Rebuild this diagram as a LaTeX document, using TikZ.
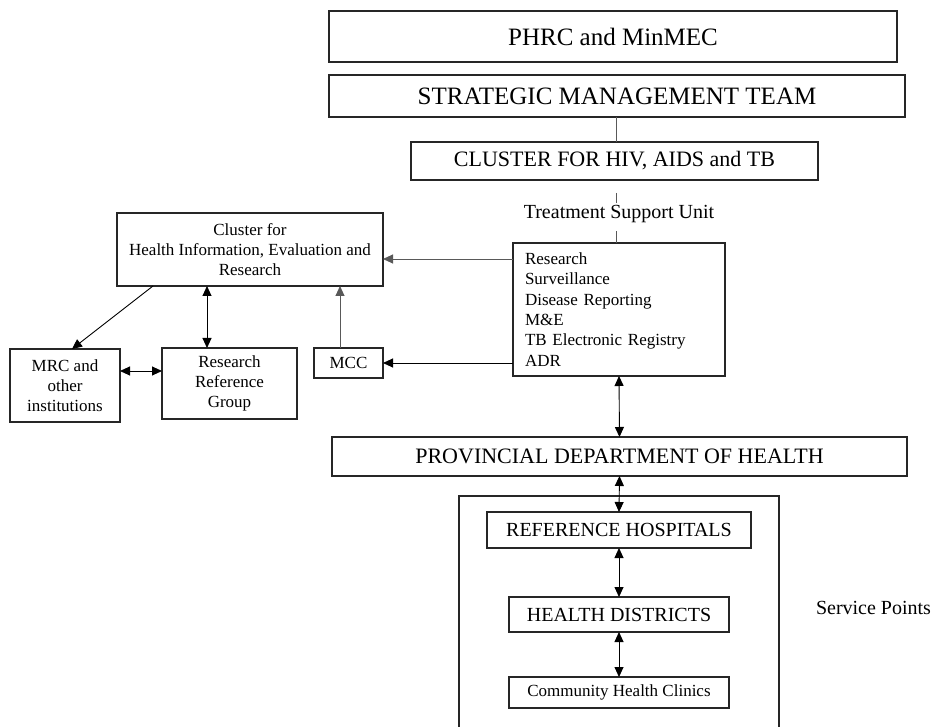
\documentclass[tikz,border=0pt]{standalone}
\usepackage{fontspec}
\setmainfont{Liberation Serif}
\usetikzlibrary{arrows.meta}
\begin{document}
\begin{tikzpicture}[x=1pt,y=-1pt,
  box/.style={draw=black!85,line width=1.1pt,inner sep=0pt,outer sep=0pt,align=center},
  fa/.style={font=\fontsize{25}{30}\selectfont},
  fb/.style={font=\fontsize{22}{26}\selectfont},
  fc/.style={font=\fontsize{20}{24}\selectfont},
  fd/.style={font=\fontsize{17}{20.3}\selectfont},
  conn/.style={line width=0.9pt,draw=black},
  gconn/.style={line width=0.9pt,draw=black!65},
  tip/.tip={Triangle[length=10pt,width=9pt]},
  one/.style={-tip},
  two/.style={tip-tip}]
\useasboundingbox (0,0) rectangle (932,727);
% boxes
\node[box,fa,minimum width=568,minimum height=51] (phrc) at (613,36.5) {PHRC and MinMEC};
\node[box,fa,minimum width=576,minimum height=42] (smt) at (617,96) {STRATEGIC MANAGEMENT TEAM};
\node[box,fb,minimum width=407,minimum height=38] (hiv) at (614.5,161) {CLUSTER FOR HIV, AIDS and TB};
\node[fc,inner sep=0pt] (tsulbl) at (619,214) {Treatment Support Unit};
\node[box,fd,minimum width=212,minimum height=133,text width=188,align=left] (tsu) at (619,309.5)
  {Research\\Surveillance\\Disease Reporting\\M\&E\\TB Electronic Registry\\ADR};
\node[box,fd,minimum width=266,minimum height=73] (hier) at (250,249.5)
  {Cluster for\\Health Information, Evaluation and\\Research};
\node[box,fd,minimum width=110,minimum height=73] (mrc) at (65,385.5) {MRC and\\other\\institutions};
\node[box,fd,minimum width=135,minimum height=71] (rrg) at (229.5,383.5) {Research\\Reference\\Group};
\node[box,fd,minimum width=69,minimum height=30] (mcc) at (348.5,363) {MCC};
\node[box,fb,minimum width=575,minimum height=39] (prov) at (619.5,456.5) {PROVINCIAL DEPARTMENT OF HEALTH};
\node[box,fc,minimum width=264,minimum height=36] (ref) at (619,530) {REFERENCE HOSPITALS};
\node[box,fc,minimum width=220,minimum height=35] (hd) at (619,614.5) {HEALTH DISTRICTS};
\node[box,fd,minimum width=220,minimum height=31] (chc) at (619,692.5) {Community Health Clinics};
\node[fc,inner sep=0pt] (sp) at (873.5,608) {Service Points};
% outer frame of service points
\coordinate (fl) at (459,727);
\coordinate (fr) at (779,727);
\draw[line width=1.1pt,draw=black!85] (fl) -- (459,496) -- (779,496) -- (fr);
% helper coordinates
\coordinate (lx) at (616,0);
\coordinate (ya) at (0,259);
\coordinate (xm) at (340,0);
\coordinate (xr) at (207,0);
\coordinate (d1) at (153,0);
\coordinate (d2) at (72,0);
\coordinate (yb) at (0,371);
% connectors
\draw[gconn] (lx |- smt.south) -- (lx |- hiv.north);
\draw[gconn] (lx |- hiv.south) ++(0,13) -- ++(0,10);
\draw[gconn] (lx |- tsu.north) -- ++(0,-12);
\draw[gconn,one] (tsu.west |- ya) -- (hier.east |- ya);
\draw[conn,one] (tsu.west |- mcc.east) -- (mcc.east);
\draw[gconn,one] (xm |- mcc.north) -- (xm |- hier.south);
\draw[conn,two] (xr |- hier.south) -- (xr |- rrg.north);
\draw[conn,one] (d1 |- hier.south) -- (d2 |- mrc.north);
\draw[conn,two] (mrc.east |- yb) -- (rrg.west |- yb);
\draw[conn,two] (tsu.south) -- (prov.north);
\draw[conn,two] (prov.south) -- (ref.north);
\draw[conn,two] (ref.south) -- (hd.north);
\draw[conn,two] (hd.south) -- (chc.north);
\end{tikzpicture}
\end{document}
